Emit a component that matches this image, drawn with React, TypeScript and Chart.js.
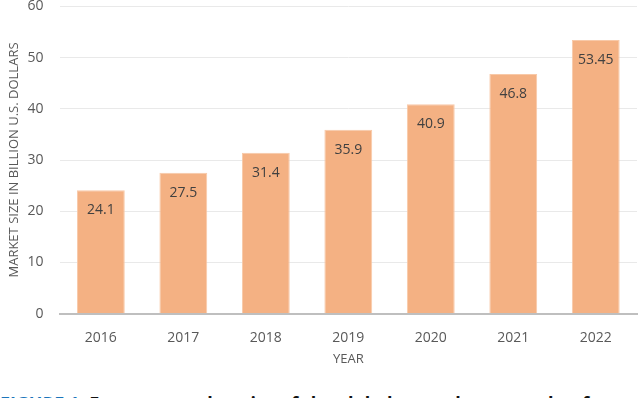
import React, { useEffect, useRef } from "react";
import { Chart, registerables } from "chart.js";

Chart.register(...registerables);

const years = ["2016", "2017", "2018", "2019", "2020", "2021", "2022"];
const marketSize = [24.1, 27.5, 31.4, 35.9, 40.9, 46.8, 53.45];
const valueLabels = ["24.1", "27.5", "31.4", "35.9", "40.9", "46.8", "53.45"];
const yTitle = "MARKET SIZE IN BILLION U.S. DOLLARS";
const xTitle = "YEAR";
const captionLead = "FIGURE 1.";
const captionRest = "Forecast market size of the global smart home market for";

const FONT = "'Open Sans', 'Noto Sans', sans-serif";

const labelPlugin = {
  id: "barLabels",
  afterDatasetsDraw(chart: any) {
    const ctx = chart.ctx;
    const meta = chart.getDatasetMeta(0);
    ctx.save();
    ctx.font = `14px ${FONT}`;
    ctx.fillStyle = "#404040";
    ctx.textAlign = "center";
    ctx.textBaseline = "middle";
    meta.data.forEach((bar: any, i: number) => {
      ctx.fillText(valueLabels[i], bar.x, bar.y + 20);
    });
    ctx.restore();
  },
};

export default function App() {
  const ref = useRef<HTMLCanvasElement>(null);
  useEffect(() => {
    document.body.style.margin = "0";
    const chart = new Chart(ref.current!, {
      type: "bar",
      data: {
        labels: years,
        datasets: [
          {
            data: marketSize,
            backgroundColor: "#F4B183",
            borderColor: "#F8C9A8",
            borderWidth: 1,
            barPercentage: 0.58,
            categoryPercentage: 1,
          },
        ],
      },
      options: {
        animation: false,
        responsive: false,
        layout: { padding: { left: 6, right: 3, top: 0, bottom: 8 } },
        plugins: { legend: { display: false }, tooltip: { enabled: false } },
        scales: {
          x: {
            grid: { display: false },
            border: { color: "#BFBFBF", width: 2 },
            ticks: { color: "#595959", font: { family: FONT, size: 14 }, padding: 8 },
            title: {
              display: true,
              text: xTitle,
              color: "#595959",
              font: { family: FONT, size: 13 },
              padding: { top: -3, bottom: 0 },
            },
          },
          y: {
            min: 0,
            max: 60,
            ticks: { stepSize: 10, color: "#595959", font: { family: FONT, size: 14 }, padding: 16 },
            grid: {
              color: (c: any) => (c.tick && c.tick.value === 0 ? "rgba(0,0,0,0)" : "#E9E9E9"),
              drawTicks: false,
            },
            border: { display: false },
            title: {
              display: true,
              text: yTitle,
              color: "#595959",
              font: { family: FONT, size: 13 },
              padding: { top: 0, bottom: -10 },
            },
          },
        },
      },
      plugins: [labelPlugin],
    });
    return () => chart.destroy();
  }, []);
  return (
    <div style={{ position: "fixed", left: 0, top: 0, width: 640, height: 398, overflow: "hidden", background: "#fff" }}>
      <canvas ref={ref} width={640} height={393} style={{ display: "block", position: "absolute", left: 0, top: -18 }} />
      <div
        style={{
          position: "absolute",
          left: 0,
          top: 393,
          whiteSpace: "nowrap",
          fontFamily: FONT,
          fontWeight: 700,
          fontSize: 18,
          lineHeight: "20px",
          color: "#111",
        }}
      >
        <span style={{ color: "#1B75BB" }}>{captionLead}</span>
        {"   "}
        {captionRest}
      </div>
    </div>
  );
}
